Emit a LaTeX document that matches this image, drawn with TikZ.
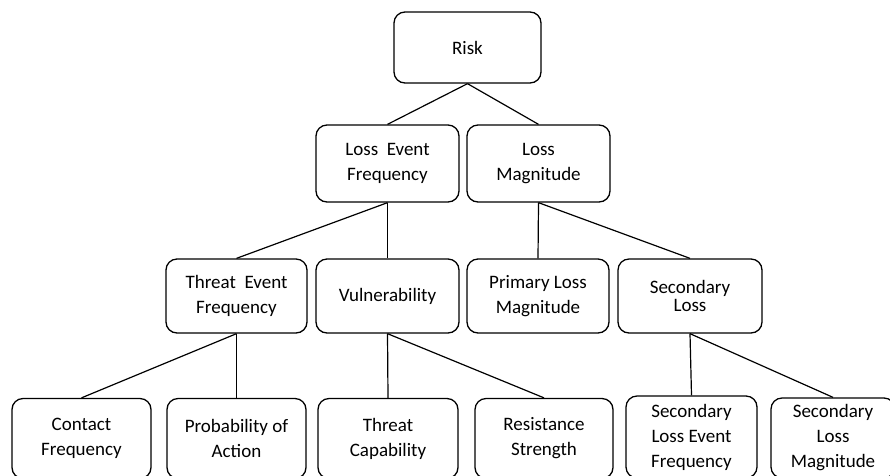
\documentclass[tikz,border=0pt]{standalone}
\usepackage{fontspec}
\setmainfont{Carlito}
\usepackage{tikz}
\usetikzlibrary{positioning}

\begin{document}
\begin{tikzpicture}[x=1pt, y=-1pt, line width=1.3pt,
    every node/.style={font=\fontsize{19}{25}\selectfont, align=center},
    box/.style={draw, rounded corners=11pt, fill=white, inner sep=0pt, minimum height=74pt},
    link/.style={draw, line width=1.2pt}]
    \useasboundingbox (0,0) rectangle (890,475);
    \clip (0,0) rectangle (890,475);

    % top levels
    \node[box, minimum width=147pt, minimum height=71pt] (risk) at (467.5,47.5) {Risk};
    \node[box, minimum width=143pt, minimum height=77pt] (lef) at (387.5,163.5) {Loss~ Event\\Frequency};
    \node[box, minimum width=143pt, minimum height=77pt] (lm) at (538.5,163.5) {Loss\\Magnitude};

    % third level
    \node[box, minimum width=141pt] (tef) at (236.5,296) {Threat~ Event\\Frequency};
    \node[box, minimum width=143pt] (vuln) at (387.5,296) {Vulnerability};
    \node[box, minimum width=142pt] (plm) at (538,296) {Primary Loss\\Magnitude};
    \node[box, minimum width=144pt, font=\fontsize{19}{18}\selectfont] (sl) at (690,296) {Secondary\\Loss};

    % leaves
    \foreach \nm/\x/\w/\lab in {cf/81.5/139/{Contact\\Frequency}, poa/236.5/139/{Probability of\\Action},
        tc/388/140/{Threat\\Capability}, rs/544/138/{Resistance\\Strength}}{
      \node[box, minimum width=\w pt, minimum height=80pt] (\nm) at (\x,438.5) {\lab};
    }
    \node[box, minimum width=131pt, minimum height=82pt] (slef) at (691.5,437) {Secondary\\Loss Event\\Frequency};
    \node[box, minimum width=124pt, minimum height=80pt] (slm) at (833,438) {Secondary\\Loss\\Magnitude};

    % connectors
    \foreach \a/\b in {risk/lef, risk/lm, lef/tef, lef/vuln, lm/plm, lm/sl,
        tef/cf, tef/poa, vuln/tc, vuln/rs, sl/slef, sl/slm}{
      \draw[link] (\a.south) -- (\b.north);
    }
\end{tikzpicture}
\end{document}
